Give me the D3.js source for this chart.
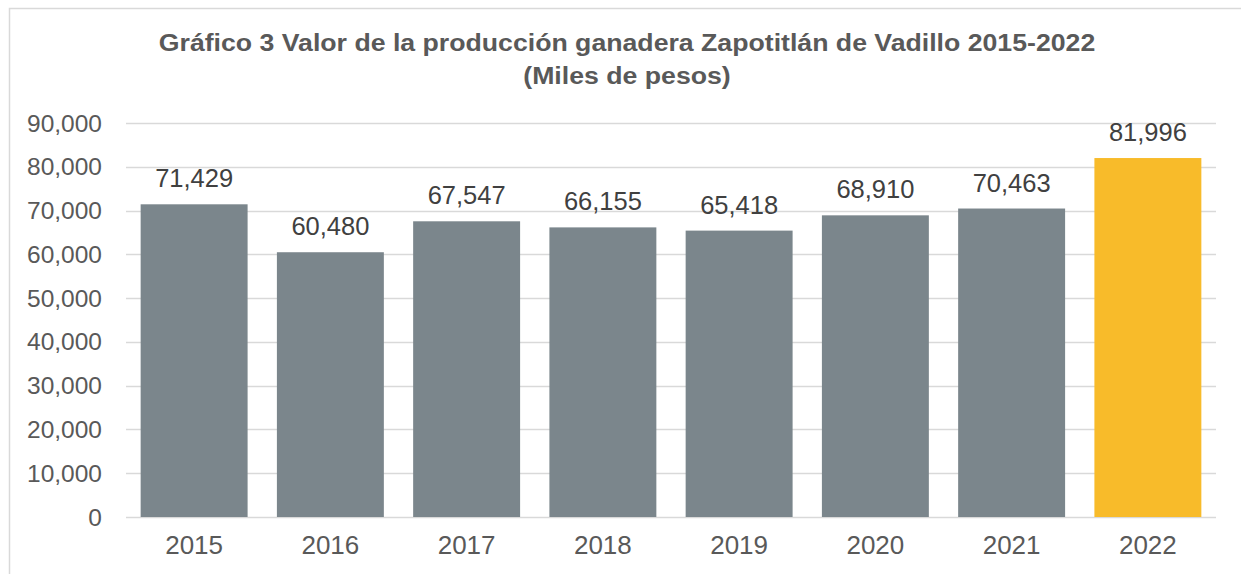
<!DOCTYPE html>
<html>
<head>
<meta charset="utf-8">
<script src="https://cdn.jsdelivr.net/npm/d3@7"></script>
<style>
  body { margin: 0; background: #fff; }
  text { font-family: "Liberation Sans", Arial, sans-serif; fill: #595959; }
</style>
</head>
<body>
<div id="chart"></div>
<script>
const years = ["2015", "2016", "2017", "2018", "2019", "2020", "2021", "2022"];
const valores = [71429, 60480, 67547, 66155, 65418, 68910, 70463, 81996];
const yTicks = [0, 10000, 20000, 30000, 40000, 50000, 60000, 70000, 80000, 90000];
const titulo = ["Gráfico 3 Valor de la producción ganadera Zapotitlán de Vadillo 2015-2022", "(Miles de pesos)"];

const W = 1241, H = 574;
const margin = { top: 123, right: 25, bottom: 57, left: 126 };
const width = W - margin.left - margin.right;
const height = H - margin.top - margin.bottom;
const sxTitulo = 1.16; // el titulo del original sale algo estirado

const svg = d3.select("#chart")
    .append("svg")
    .attr("width", W)
    .attr("height", H);

// marco del area del grafico
svg.append("path")
    .attr("d", `M9.5,${H} V8.5 H${W}`)
    .attr("fill", "none")
    .attr("stroke", "#d9d9d9")
    .attr("stroke-width", 1.5);

const g = svg.append("g")
    .attr("transform", `translate(${margin.left},${margin.top})`);

const x = d3.scaleBand()
    .domain(years)
    .range([0, width])
    .paddingInner(0.215)
    .paddingOuter(0.1075);

const y = d3.scaleLinear()
    .domain([0, 90000])
    .range([height, 0]);

// lineas de cuadricula
g.selectAll("line.grid")
    .data(yTicks)
    .join("line")
    .attr("class", "grid")
    .attr("x1", 0)
    .attr("x2", width)
    .attr("y1", d => Math.round(y(d)) + 0.5)
    .attr("y2", d => Math.round(y(d)) + 0.5)
    .attr("stroke", "#d9d9d9")
    .attr("stroke-width", 1.5);

const fmt = d3.format(",");

// etiquetas del eje y
g.selectAll("text.ytick")
    .data(yTicks)
    .join("text")
    .attr("class", "ytick")
    .attr("text-anchor", "end")
    .attr("font-size", 24.5)
    .attr("x", -24)
    .attr("y", d => y(d) + 8.5)
    .text(d => fmt(d));

g.selectAll("rect")
    .data(valores)
    .join("rect")
    .attr("x", (d, i) => x(years[i]))
    .attr("y", d => y(d))
    .attr("width", x.bandwidth())
    .attr("height", d => height - y(d))
    .attr("fill", (d, i) => i === years.length - 1 ? "#f8bb2a" : "#7b868c");

// etiquetas de datos
g.selectAll("text.label")
    .data(valores)
    .join("text")
    .attr("class", "label")
    .attr("text-anchor", "middle")
    .attr("font-size", 25.5)
    .attr("x", (d, i) => x(years[i]) + x.bandwidth() / 2)
    .attr("y", d => y(d) - 17)
    .style("fill", "#404040")
    .text(d => fmt(d));

// etiquetas del eje x
g.selectAll("text.xtick")
    .data(years)
    .join("text")
    .attr("class", "xtick")
    .attr("text-anchor", "middle")
    .attr("font-size", 26)
    .attr("x", d => x(d) + x.bandwidth() / 2)
    .attr("y", height + 37)
    .text(d => d);

// titulo
svg.selectAll("text.title")
    .data(titulo)
    .join("text")
    .attr("class", "title")
    .attr("text-anchor", "middle")
    .attr("font-size", 23)
    .attr("font-weight", "bold")
    .attr("transform", (d, i) => `translate(627,${51 + i * 33}) scale(${sxTitulo},1)`)
    .text(d => d);
</script>
</body>
</html>
